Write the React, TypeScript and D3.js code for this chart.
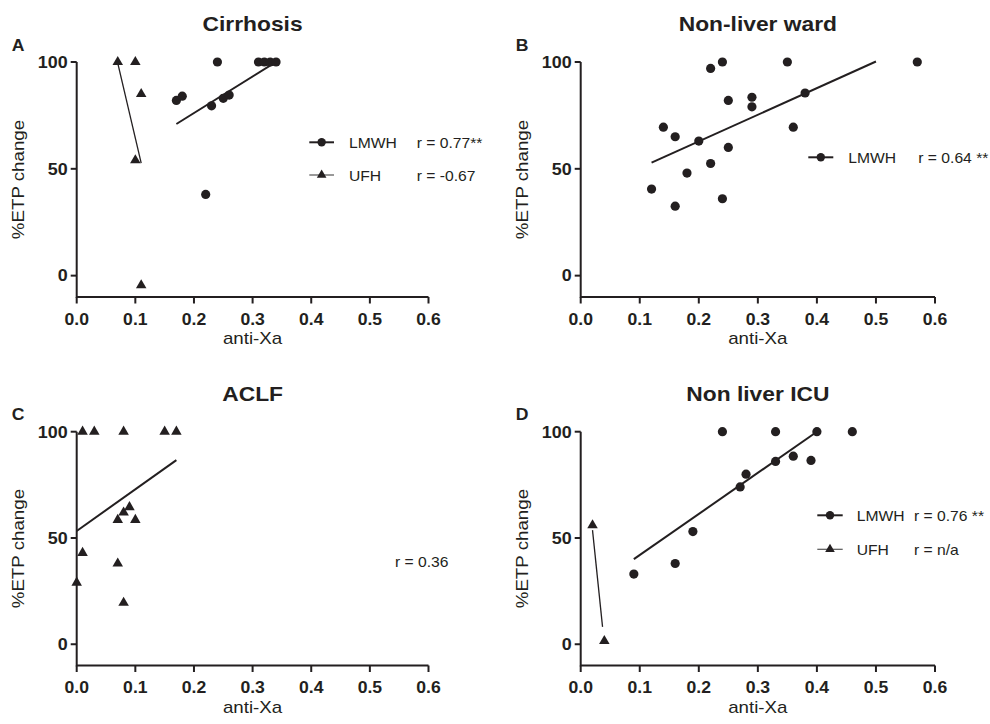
import React from "react";
import * as d3 from "d3";

// ---------- data ----------
const xTicks = [0, 0.1, 0.2, 0.3, 0.4, 0.5, 0.6];
const yTicks = [0, 50, 100];
const xDomain = [0, 0.6];
const yDomain = [-10, 100];

const panelTitles = ["Cirrhosis", "Non-liver ward", "ACLF", "Non liver ICU"];
const panelLetters = ["A", "B", "C", "D"];
const xLabel = "anti-Xa";
const yLabel = "%ETP change";

const cirrhosisLmwhX = [0.17, 0.18, 0.22, 0.23, 0.24, 0.25, 0.26, 0.31, 0.32, 0.33, 0.34];
const cirrhosisLmwhY = [82, 84, 38, 79.5, 100, 83, 84.5, 100, 100, 100, 100];
const cirrhosisUfhX = [0.07, 0.1, 0.1, 0.11, 0.11];
const cirrhosisUfhY = [100, 100, 54, 85, -4.5];

const wardLmwhX = [0.12, 0.14, 0.16, 0.16, 0.18, 0.2, 0.22, 0.22, 0.24, 0.24, 0.25, 0.25, 0.29, 0.29, 0.35, 0.36, 0.38, 0.57];
const wardLmwhY = [40.5, 69.5, 65, 32.5, 48, 63, 97, 52.5, 100, 36, 82, 60, 83.5, 79, 100, 69.5, 85.5, 100];

const aclfUfhX = [0, 0.01, 0.01, 0.03, 0.07, 0.07, 0.08, 0.08, 0.08, 0.09, 0.1, 0.15, 0.17];
const aclfUfhY = [29, 43, 100, 100, 38, 58.5, 100, 62, 19.5, 64.5, 58.5, 100, 100];

const icuLmwhX = [0.09, 0.16, 0.19, 0.24, 0.27, 0.28, 0.33, 0.33, 0.36, 0.39, 0.4, 0.46];
const icuLmwhY = [33, 38, 53, 100, 74, 80, 100, 86, 88.5, 86.5, 100, 100];
const icuUfhX = [0.02, 0.04];
const icuUfhY = [56, 1.5];

// fitted lines: [slope, intercept, xStart, xEnd]
const cirrhosisLmwhFit = [171, 41.9, 0.17, 0.34];
const cirrhosisUfhFit = [-1170, 181.4, 0.07, 0.11];
const wardLmwhFit = [124.7, 37.9, 0.12, 0.5];
const aclfUfhFit = [196, 53.3, 0, 0.17];
const icuLmwhFit = [193.5, 22.6, 0.09, 0.4];
const icuUfhFit = [-2676, 107.2, 0.02, 0.037];

const legendNames = ["LMWH", "UFH"];
const cirrhosisR = ["r = 0.77**", "r = -0.67"];
const wardR = ["r = 0.64 **"];
const aclfR = ["r = 0.36"];
const icuR = ["r = 0.76 **", "r = n/a"];

// ---------- layout ----------
const W = 990;
const H = 724;
const FONT = "'Liberation Sans', Arial, Helvetica, sans-serif";
const INK = "#231f20";
const colX = [
  [76.7, 428.5],
  [580.7, 935],
];
const rowY = [
  [297, 62],
  [665.5, 431.7],
];

type Series = { kind: "circle" | "triangle"; xs: number[]; ys: number[]; fit?: number[]; thin?: boolean };
type LegendRow = { kind: "circle" | "triangle" | null; name?: string; r: string; thin?: boolean };
type Panel = {
  col: number;
  row: number;
  idx: number;
  series: Series[];
  legend: { lineX0: number; lineX1: number; nameX: number; rX: number; ys: number[]; rows: LegendRow[] };
};

const panels: Panel[] = [
  {
    col: 0,
    row: 0,
    idx: 0,
    series: [
      { kind: "circle", xs: cirrhosisLmwhX, ys: cirrhosisLmwhY, fit: cirrhosisLmwhFit },
      { kind: "triangle", xs: cirrhosisUfhX, ys: cirrhosisUfhY, fit: cirrhosisUfhFit, thin: true },
    ],
    legend: {
      lineX0: 309.3,
      lineX1: 334,
      nameX: 349,
      rX: 416.7,
      ys: [142.3, 175],
      rows: [
        { kind: "circle", name: legendNames[0], r: cirrhosisR[0] },
        { kind: "triangle", name: legendNames[1], r: cirrhosisR[1], thin: true },
      ],
    },
  },
  {
    col: 1,
    row: 0,
    idx: 1,
    series: [{ kind: "circle", xs: wardLmwhX, ys: wardLmwhY, fit: wardLmwhFit }],
    legend: {
      lineX0: 808.3,
      lineX1: 833.3,
      nameX: 848.3,
      rX: 918.3,
      ys: [157.3],
      rows: [{ kind: "circle", name: legendNames[0], r: wardR[0] }],
    },
  },
  {
    col: 0,
    row: 1,
    idx: 2,
    series: [{ kind: "triangle", xs: aclfUfhX, ys: aclfUfhY, fit: aclfUfhFit }],
    legend: {
      lineX0: 0,
      lineX1: 0,
      nameX: 0,
      rX: 395,
      ys: [561.5],
      rows: [{ kind: null, r: aclfR[0] }],
    },
  },
  {
    col: 1,
    row: 1,
    idx: 3,
    series: [
      { kind: "circle", xs: icuLmwhX, ys: icuLmwhY, fit: icuLmwhFit },
      { kind: "triangle", xs: icuUfhX, ys: icuUfhY, fit: icuUfhFit, thin: true },
    ],
    legend: {
      lineX0: 817.3,
      lineX1: 842.7,
      nameX: 856.7,
      rX: 914,
      ys: [515.3, 549.3],
      rows: [
        { kind: "circle", name: legendNames[0], r: icuR[0] },
        { kind: "triangle", name: legendNames[1], r: icuR[1], thin: true },
      ],
    },
  },
];

const triPath = d3.symbol(d3.symbolTriangle, 48)() as string;
const triPathLegend = d3.symbol(d3.symbolTriangle, 40)() as string;

function T(props: {
  x: number;
  y: number;
  size: number;
  bold?: boolean;
  anchor?: "start" | "middle" | "end";
  sx?: number;
  rot?: number;
  children: React.ReactNode;
}) {
  const { x, y, size, bold, anchor = "start", sx = 1.12, rot = 0, children } = props;
  return (
    <text
      transform={`translate(${x},${y}) rotate(${rot}) scale(${sx},1)`}
      fontSize={size}
      fontWeight={bold ? 700 : 400}
      textAnchor={anchor}
      fontFamily={FONT}
      fill={INK}
    >
      {children}
    </text>
  );
}

function Marker({ kind, x, y, legend }: { kind: "circle" | "triangle"; x: number; y: number; legend?: boolean }) {
  if (kind === "circle") return <circle cx={x} cy={y} r={legend ? 4.2 : 4.6} fill={INK} />;
  return <path d={legend ? triPathLegend : triPath} transform={`translate(${x},${y})`} fill={INK} />;
}

function PanelView({ p }: { p: Panel }) {
  const xs = d3.scaleLinear().domain(xDomain).range(colX[p.col]);
  const ys = d3.scaleLinear().domain(yDomain).range(rowY[p.row]);
  const x0 = xs(xDomain[0]);
  const x1 = xs(xDomain[1]);
  const yb = ys(yDomain[0]);
  const yt = ys(yDomain[1]);
  const cx = (x0 + x1) / 2;
  return (
    <g>
      <T x={cx} y={yt - 31} size={20} bold anchor="middle" sx={1.14}>
        {panelTitles[p.idx]}
      </T>
      <T x={x0 - 65} y={yt - 11.5} size={16} bold sx={1.1}>
        {panelLetters[p.idx]}
      </T>
      {/* axes */}
      <path d={`M${x0},${yt}V${yb}H${x1}`} fill="none" stroke={INK} strokeWidth={2} />
      {yTicks.map((t) => (
        <g key={"y" + t}>
          <line x1={x0 - 6} x2={x0} y1={ys(t)} y2={ys(t)} stroke={INK} strokeWidth={2} />
          <T x={x0 - 9} y={ys(t) + 5.8} size={16} bold anchor="end" sx={1.12}>
            {String(t)}
          </T>
        </g>
      ))}
      {xTicks.map((t) => (
        <g key={"x" + t}>
          <line x1={xs(t)} x2={xs(t)} y1={yb} y2={yb + 6.5} stroke={INK} strokeWidth={2} />
          <T x={xs(t)} y={yb + 27.5} size={16} bold anchor="middle" sx={1.1}>
            {t.toFixed(1)}
          </T>
        </g>
      ))}
      <T x={cx} y={yb + 47} size={16} anchor="middle" sx={1.17}>
        {xLabel}
      </T>
      <T x={x0 - 53} y={(yt + yb) / 2} size={16} anchor="middle" rot={-90} sx={1.17}>
        {yLabel}
      </T>
      {/* fits */}
      {p.series.map((s, i) =>
        s.fit ? (
          <line
            key={"f" + i}
            x1={xs(s.fit[2])}
            x2={xs(s.fit[3])}
            y1={ys(s.fit[0] * s.fit[2] + s.fit[1])}
            y2={ys(s.fit[0] * s.fit[3] + s.fit[1])}
            stroke={INK}
            strokeWidth={s.thin ? 1.3 : 2}
          />
        ) : null
      )}
      {/* points */}
      {p.series.map((s, i) =>
        s.xs.map((xv, j) => <Marker key={i + "-" + j} kind={s.kind} x={xs(xv)} y={ys(s.ys[j])} />)
      )}
      {/* legend */}
      {p.legend.rows.map((r, i) => {
        const ly = p.legend.ys[i];
        return (
          <g key={"l" + i}>
            {r.kind && (
              <>
                <line
                  x1={p.legend.lineX0}
                  x2={p.legend.lineX1}
                  y1={ly}
                  y2={ly}
                  stroke={r.thin ? "#555" : INK}
                  strokeWidth={r.thin ? 1.2 : 2}
                />
                <Marker kind={r.kind} x={(p.legend.lineX0 + p.legend.lineX1) / 2} y={ly} legend />
                <T x={p.legend.nameX} y={ly + 5.5} size={14.5} sx={1.08}>
                  {r.name}
                </T>
              </>
            )}
            <T x={p.legend.rX} y={ly + 5.5} size={14.5} sx={1.08}>
              {r.r}
            </T>
          </g>
        );
      })}
    </g>
  );
}

export default function App() {
  return (
    <div style={{ position: "absolute", left: 0, top: 0 }}>
      <svg width={W} height={H} viewBox={`0 0 ${W} ${H}`} style={{ display: "block", background: "#fff" }}>
        <rect width={W} height={H} fill="#fff" />
        {panels.map((p) => (
          <PanelView key={p.idx} p={p} />
        ))}
      </svg>
    </div>
  );
}
